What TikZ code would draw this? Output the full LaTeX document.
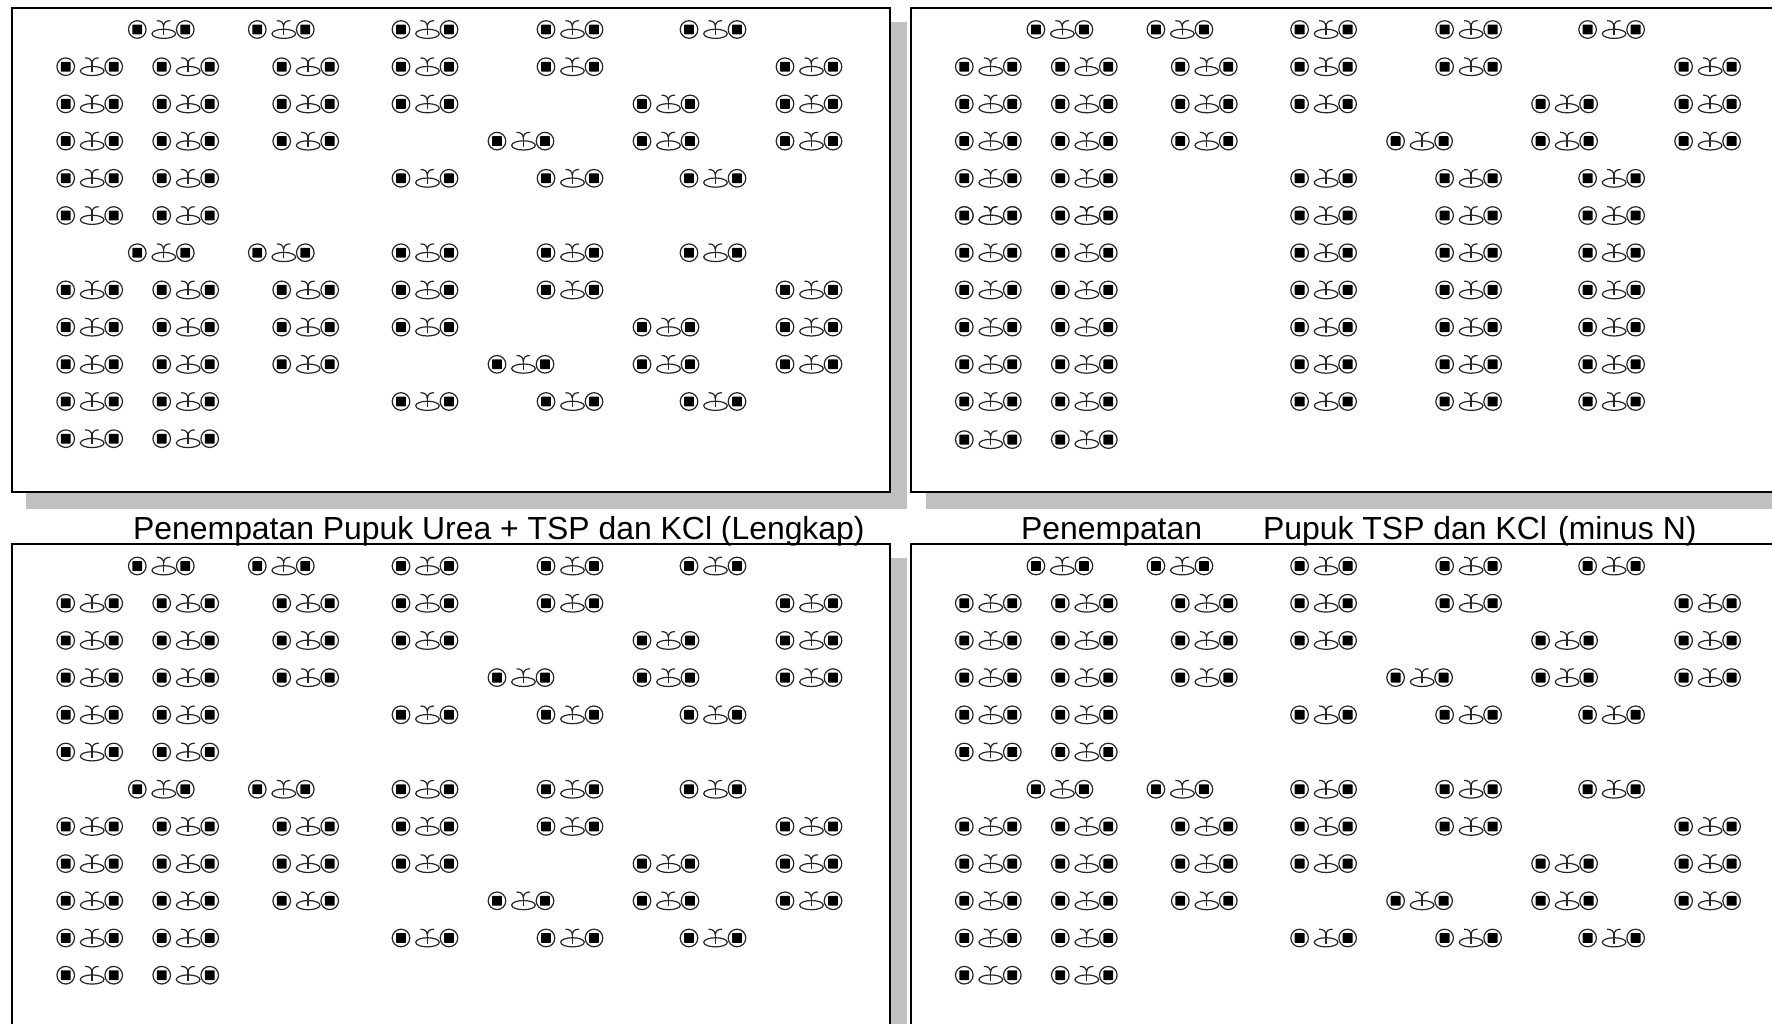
\documentclass[tikz,border=0pt]{standalone}
\usepackage{fontspec}
\setmainfont{Liberation Sans}
\definecolor{shade}{HTML}{C0C0C0}
\tikzset{
  x=1pt,y=-1pt,
  frame/.style={draw=black,fill=white,line width=2.2pt},
  shadow/.style={fill=shade,draw=none},
  caption/.style={font=\fontsize{31.9}{33}\selectfont,anchor=base west,inner sep=0pt,text=black},
  ring/.style={draw=black!85,line width=1.2pt,fill=white},
  sprout/.style={draw=black!85,line width=1.2pt},
  core/.style={fill=black,rounded corners=0.6pt},
  pics/unit/.style={code={
    \draw[ring] (26.5,4.3) ellipse (11.8 and 4.6);
    \draw[sprout] (26.3,-4) -- (26.3,5.5);
    \draw[sprout] (19.5,-8.8) .. controls (24,-8.8) and (26,-7) .. (26.3,-3) .. controls (26.6,-7) and (28.5,-8.8) .. (33,-8.8);
    \draw[ring] (0,0) circle (8.8);
    \fill[core] (-4.9,-4.9) rectangle (4.9,4.9);
    \draw[ring] (48,0) circle (8.8);
    \fill[core] (43.1,-4.9) rectangle (52.9,4.9);
  }}
}
\newcommand{\rowa}{137.3,257.3,401,546,689}
\newcommand{\rowb}{65.7,161.7,281.7,401,546,785}
\newcommand{\rowc}{65.7,161.7,281.7,401,642,785}
\newcommand{\rowd}{65.7,161.7,281.7,497,642,785}
\newcommand{\rowe}{65.7,161.7,401,546,689}
\newcommand{\rowf}{65.7,161.7}
\newcommand{\putrow}[3]{\foreach \cx in #3 {\pic at ({#1+\cx},{#2}) {unit};}}
\newcommand{\blockA}[2]{%
  \putrow{#1}{#2+29.5}{\rowa}\putrow{#1}{#2+66.7}{\rowb}\putrow{#1}{#2+103.9}{\rowc}%
  \putrow{#1}{#2+141.1}{\rowd}\putrow{#1}{#2+178.3}{\rowe}\putrow{#1}{#2+215.5}{\rowf}}
\begin{document}
\begin{tikzpicture}
\useasboundingbox (0,0) rectangle (1772,1024);
% shadows
\fill[shadow] (26,22) rectangle (907,509);
\fill[shadow] (926,22) rectangle (1790,509);
\fill[shadow] (26,558) rectangle (907,1040);
\fill[shadow] (926,558) rectangle (1790,1040);
% frames
\draw[frame] (12,8) rectangle (890,492);
\draw[frame] (911,8) rectangle (1790,492);
\draw[frame] (12,544) rectangle (890,1040);
\draw[frame] (911,544) rectangle (1790,1040);
% panel 1
\blockA{0}{0}\blockA{0}{223.2}
% panel 2
\blockA{898.6}{0}
\foreach \k in {1,...,6} {\putrow{898.6}{178.3+37.2*\k}{\rowe}}
\putrow{898.6}{439.6}{\rowf}
% panel 3
\blockA{0}{536.5}\blockA{0}{759.7}
% panel 4
\blockA{898.6}{536.5}\blockA{898.6}{759.7}
% captions
\node[caption] (capa) at (133,539) {Penempatan Pupuk Urea + TSP dan KCl (Lengkap)};
\node[caption] (capb) at (1021,539) {Penempatan};
\node[caption] (capc) at (1263,539) {Pupuk TSP dan KCl};
\node[caption] (capd) at (1558,539) {(minus N)};
\end{tikzpicture}
\end{document}
